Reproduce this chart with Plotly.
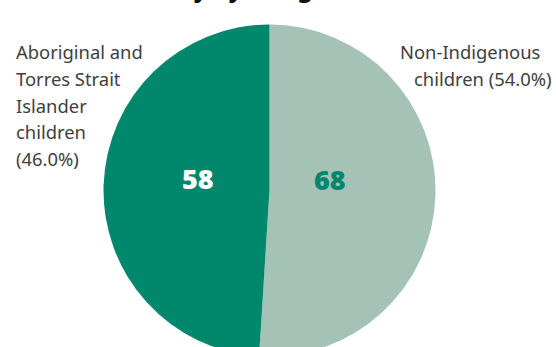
import plotly.graph_objects as go

# Data
categories = ["Non-Indigenous children", "Aboriginal and Torres Strait Islander children"]
slice_shares = [51.0, 49.0]          # slice sizes as drawn in the reference
value_labels = [68, 58]              # numbers printed inside the slices
pct_labels = [54.0, 46.0]            # percentages printed beside the pie
colors = ["#A5C2B7", "#00876C"]
title_text = "Child safety by Indigenous status"

W, H = 556, 360

def px(x, y):
    return x / W, 1 - y / H

fig = go.Figure()
fig.add_trace(go.Pie(
    labels=categories,
    values=slice_shares,
    sort=False,
    direction="clockwise",
    rotation=0,
    marker=dict(colors=colors, line=dict(width=0)),
    textinfo="none",
    hoverinfo="label",
    showlegend=False,
    domain=dict(x=[103.5 / W, 435.5 / W], y=[1 - 356.5 / H, 1 - 24.5 / H]),
))

label_font = dict(family="Noto Sans", size=18.4, color="#404040")
anns = []

# Left label (Aboriginal and Torres Strait Islander children)
left_lines = ["Aboriginal and", "Torres Strait", "Islander", "children", f"({pct_labels[1]:.1f}%)"]
for i, line in enumerate(left_lines):
    x, y = px(14, 52 + i * 26.5)
    anns.append(dict(text=line, x=x, y=y, xref="paper", yref="paper",
                     xanchor="left", yanchor="middle", showarrow=False, font=label_font))

# Right label (Non-Indigenous children)
right_lines = [("Non-Indigenous", 398), (f"children ({pct_labels[0]:.1f}%)", 412)]
for i, (line, lx) in enumerate(right_lines):
    x, y = px(lx, 52 + i * 26.5)
    anns.append(dict(text=line, x=x, y=y, xref="paper", yref="paper",
                     xanchor="left", yanchor="middle", showarrow=False, font=label_font))

# Value labels
x, y = px(197.5, 178)
anns.append(dict(text=f"{value_labels[1]}", x=x, y=y, xref="paper", yref="paper",
                 showarrow=False, font=dict(family="Noto Sans", size=27, color="white", weight=900)))
x, y = px(330, 179)
anns.append(dict(text=f"{value_labels[0]}", x=x, y=y, xref="paper", yref="paper",
                 showarrow=False, font=dict(family="Noto Sans", size=27, color="#00876C", weight=900)))

# Title (mostly cut off at the top)
x, y = px(62, -12.5)
anns.append(dict(text=title_text, x=x, y=y, xref="paper", yref="paper",
                 xanchor="left", yanchor="middle", showarrow=False,
                 font=dict(family="Noto Sans", size=24, color="#111111", weight=800)))

fig.update_layout(
    width=W, height=H,
    margin=dict(l=0, r=0, t=0, b=0),
    paper_bgcolor="white",
    plot_bgcolor="white",
    annotations=anns,
)

fig.write_html("out.html", config={"displayModeBar": False},
               post_script="document.body.style.margin='0';document.documentElement.style.overflow='hidden';document.body.style.overflow='hidden';")
